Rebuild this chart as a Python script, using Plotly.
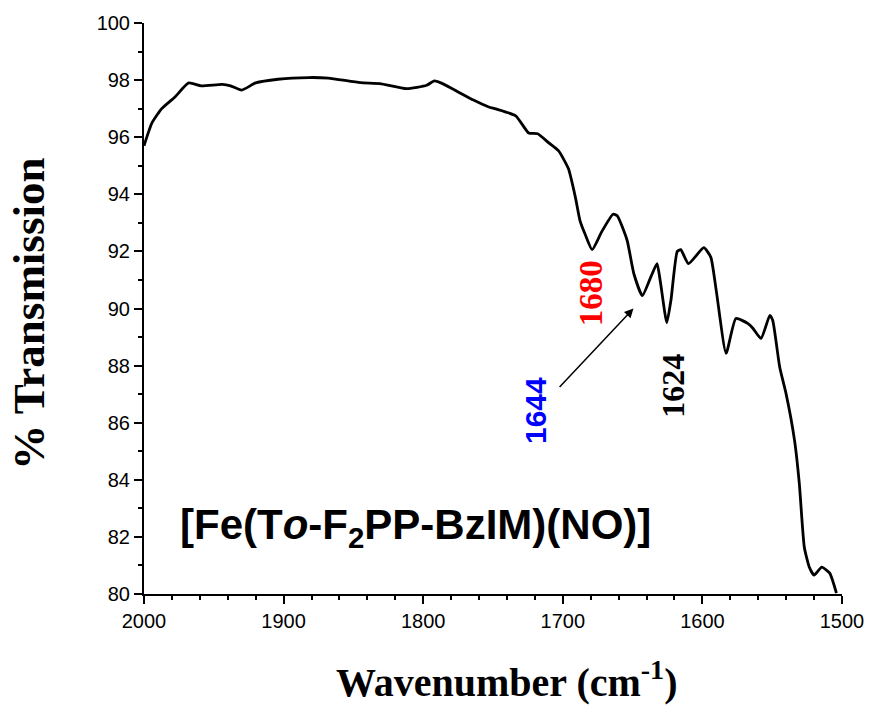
import plotly.graph_objects as go

wavenumber = [2000, 1994.3, 1987.3, 1978, 1968, 1959, 1944, 1938, 1930, 1920, 1904, 1882, 1868,
              1845, 1831, 1812, 1797.5, 1792, 1785.4, 1774, 1764, 1753, 1748, 1733.7, 1724.5, 1718,
              1710, 1703, 1696, 1691, 1687.7, 1684, 1679, 1672, 1664, 1661, 1654, 1649, 1643,
              1637, 1632.5, 1630, 1625.5, 1622.5, 1618, 1615.5, 1610, 1599, 1594, 1590, 1583,
              1576, 1567.3, 1563.7, 1558, 1551.7, 1549.6, 1544.6, 1540, 1534, 1530.6, 1527, 1523.4,
              1520, 1514.5, 1508.8, 1504]
transmission = [95.7, 96.5, 97.0, 97.4, 97.9, 97.8, 97.85, 97.8, 97.65, 97.9, 98.03, 98.09, 98.07,
                97.91, 97.88, 97.7, 97.82, 97.97, 97.86, 97.56, 97.3, 97.06, 96.99, 96.75, 96.15, 96.12,
                95.8, 95.52, 94.9, 93.9, 93.08, 92.6, 92.06, 92.7, 93.3, 93.25, 92.4, 91.2, 90.45,
                91.1, 91.57, 90.9, 89.5, 90.3, 92.0, 92.06, 91.57, 92.13, 91.8, 90.6, 88.43,
                89.65, 89.47, 89.3, 88.95, 89.76, 89.58, 87.94, 87.0, 85.38, 83.88, 81.64, 80.94,
                80.66, 80.94, 80.73, 80.03]

x_ticks = [2000, 1900, 1800, 1700, 1600, 1500]
y_ticks = [80, 82, 84, 86, 88, 90, 92, 94, 96, 98, 100]

fig = go.Figure()
fig.add_trace(go.Scatter(x=wavenumber, y=transmission, mode="lines",
                         line=dict(color="black", width=2.8, shape="spline", smoothing=0.5),
                         showlegend=False, hoverinfo="skip"))

axis_common = dict(showgrid=False, zeroline=False, showline=True, linecolor="black", linewidth=2,
                   ticks="outside", ticklen=8, tickwidth=2, tickcolor="black",
                   tickfont=dict(family="Liberation Sans, Arial", size=20, color="black"))

fig.update_xaxes(range=[2000, 1500], tickvals=x_ticks, ticktext=[str(v) for v in x_ticks],
                 minor=dict(dtick=20, ticks="outside", ticklen=4, tickwidth=1.5, tickcolor="black"),
                 **axis_common)
fig.update_yaxes(range=[80, 100], tickvals=y_ticks, ticktext=[str(v) for v in y_ticks],
                 minor=dict(dtick=1, ticks="outside", ticklen=4, tickwidth=1.5, tickcolor="black"),
                 **axis_common)

serif = "Liberation Serif, Times New Roman, serif"
sans = "Liberation Sans, Arial, sans-serif"

annotations = [
    dict(x=-0.164, y=0.49, xref="paper", yref="paper", xanchor="center", yanchor="middle",
         text="<b>% Transmission</b>", textangle=-90,
         showarrow=False, font=dict(family=serif, size=45, color="black")),
    dict(x=0.52, y=-0.150, xref="paper", yref="paper", xanchor="center", yanchor="middle",
         text="<b>Wavenumber (cm<sup>-1</sup>)</b>",
         showarrow=False, font=dict(family=serif, size=40, color="black")),
    dict(x=1680, y=90.52, xref="x", yref="y", text="<b>1680</b>", textangle=-90, showarrow=False,
         font=dict(family=serif, size=33, color="red")),
    dict(x=1719.5, y=86.43, xref="x", yref="y", text="<b>1644</b>", textangle=-90, showarrow=False,
         font=dict(family=sans, size=30, color="blue")),
    dict(x=1621, y=87.3, xref="x", yref="y", text="<b>1624</b>", textangle=-90, showarrow=False,
         font=dict(family=serif, size=32, color="black")),
    dict(x=1649.4, y=90.0, ax=1703.3, ay=87.2, xref="x", yref="y", axref="x", ayref="y", text="",
         showarrow=True, arrowhead=2, arrowsize=1.2, arrowwidth=1.5, arrowcolor="black"),
    dict(x=1976, y=82.34, xref="x", yref="y", xanchor="left", yanchor="middle",
         text="<b>[Fe(T<i>o</i>-F<sub>2</sub>PP-BzIM)(NO)]</b>", showarrow=False,
         font=dict(family=sans, size=42, color="black")),
]

fig.update_layout(width=876, height=705, margin=dict(l=144, r=26, t=22, b=111),
                  plot_bgcolor="white", paper_bgcolor="white", annotations=annotations)

fig.write_html("out.html")
